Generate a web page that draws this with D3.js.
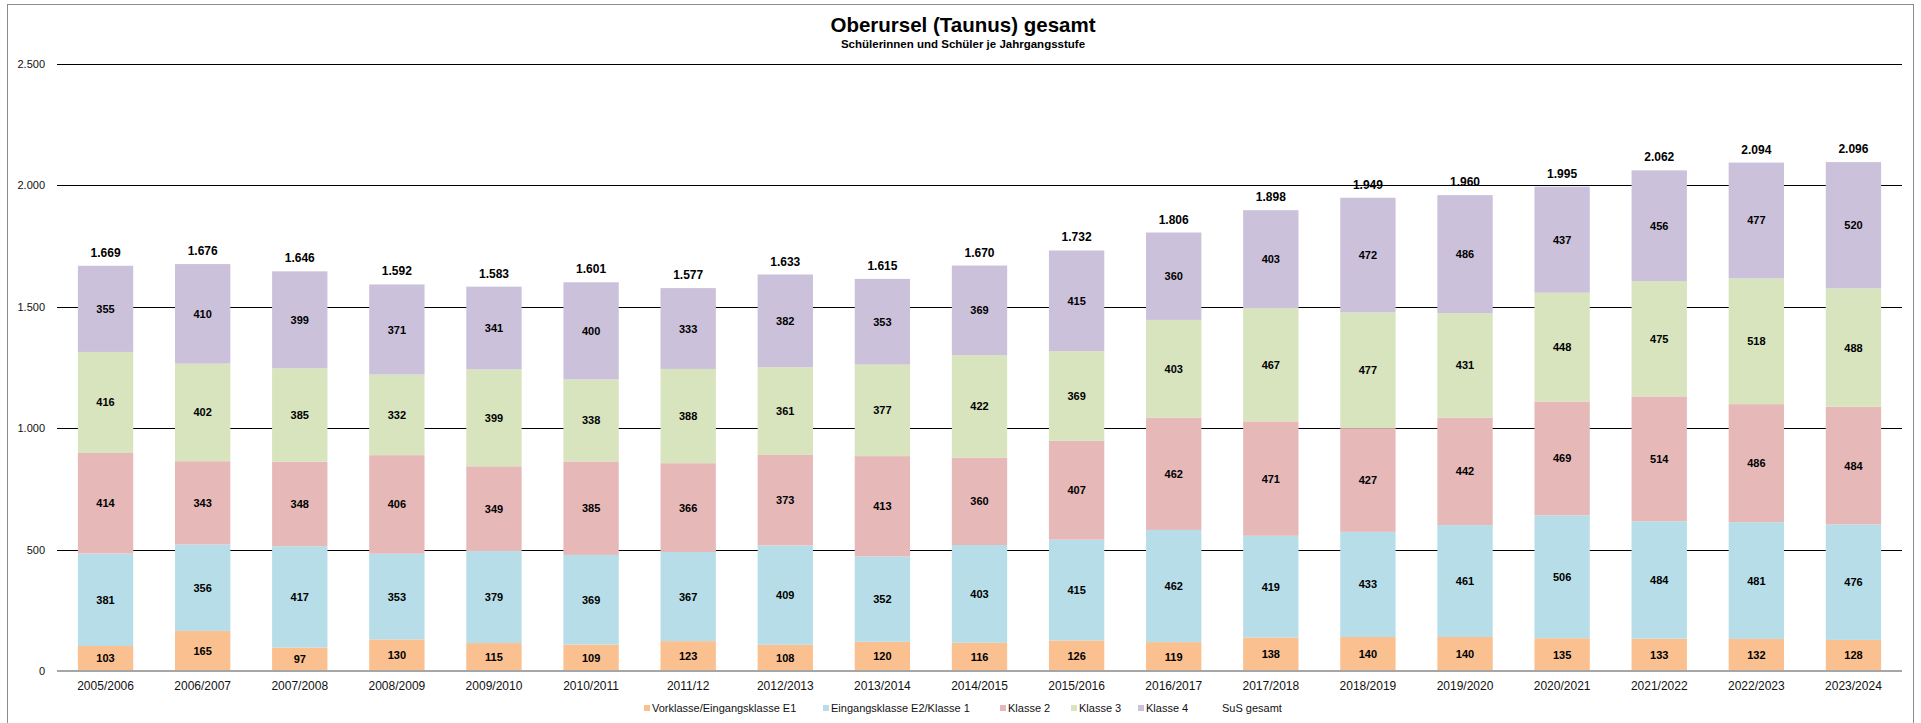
<!DOCTYPE html>
<html>
<head>
<meta charset="utf-8">
<script src="https://cdn.jsdelivr.net/npm/d3@7"></script>
<style>
body { margin:0; background:#fff; }
svg { font-family: "Liberation Sans", Arial, sans-serif; }
</style>
</head>
<body>
<svg id="chart"></svg>
<script>
var years = ["2005/2006","2006/2007","2007/2008","2008/2009","2009/2010","2010/2011","2011/12","2012/2013","2013/2014","2014/2015","2015/2016","2016/2017","2017/2018","2018/2019","2019/2020","2020/2021","2021/2022","2022/2023","2023/2024"];
var vorklasse = [103,165,97,130,115,109,123,108,120,116,126,119,138,140,140,135,133,132,128];
var klasse1 = [381,356,417,353,379,369,367,409,352,403,415,462,419,433,461,506,484,481,476];
var klasse2 = [414,343,348,406,349,385,366,373,413,360,407,462,471,427,442,469,514,486,484];
var klasse3 = [416,402,385,332,399,338,388,361,377,422,369,403,467,477,431,448,475,518,488];
var klasse4 = [355,410,399,371,341,400,333,382,353,369,415,360,403,472,486,437,456,477,520];
var susGesamt = [1669,1676,1646,1592,1583,1601,1577,1633,1615,1670,1732,1806,1898,1949,1960,1995,2062,2094,2096];
var seriesNames = ["Vorklasse/Eingangsklasse E1","Eingangsklasse E2/Klasse 1","Klasse 2","Klasse 3","Klasse 4"];
var colors = ["#FAC090","#B7DEE8","#E6B9B8","#D7E4BD","#CCC1DA"];
var yTicks = [0,500,1000,1500,2000,2500];

var screen = {width:1921, height:723};
var plot = {left:57, right:1902, top:64, bottom:671};

var de = d3.formatLocale({decimal:",", thousands:".", grouping:[3], currency:["","€"]});
var fmt = de.format(",d");

var svg = d3.select("#chart")
  .attr("width", screen.width)
  .attr("height", screen.height);

// frame
svg.append("rect")
  .attr("x", 7.5).attr("y", 4.5)
  .attr("width", 1906).attr("height", 740)
  .attr("fill", "none").attr("stroke", "#8c8c8c").attr("stroke-width", 1);

var xScale = d3.scaleBand()
  .domain(years)
  .range([plot.left, plot.right])
  .paddingInner(0.43)
  .paddingOuter(0.215);

var yScale = d3.scaleLinear()
  .domain([0, 2500])
  .range([plot.bottom, plot.top]);

// gridlines
svg.append("g").selectAll("line")
  .data(yTicks.filter(function(d){ return d > 0; }))
  .enter().append("line")
  .attr("x1", plot.left).attr("x2", plot.right)
  .attr("y1", function(d){ return Math.round(yScale(d)) + 0.5; })
  .attr("y2", function(d){ return Math.round(yScale(d)) + 0.5; })
  .attr("stroke", "#000").attr("stroke-width", 1);

// y axis labels
var yAxis = d3.axisLeft(yScale).tickValues(yTicks).tickFormat(fmt).tickSize(0).tickPadding(12);
var gy = svg.append("g").attr("transform", "translate(" + plot.left + ",0)").call(yAxis);
gy.select(".domain").remove();
gy.selectAll("text").attr("font-size", 11).attr("fill", "#111").attr("font-family", "Liberation Sans, Arial, sans-serif");

// stacked data
var rows = years.map(function(y, i){
  return {year:y, s0:vorklasse[i], s1:klasse1[i], s2:klasse2[i], s3:klasse3[i], s4:klasse4[i], total:susGesamt[i]};
});
var stack = d3.stack().keys(["s0","s1","s2","s3","s4"]);
var layers = stack(rows);

var groups = svg.append("g").selectAll("g")
  .data(layers).enter().append("g")
  .attr("fill", function(d, i){ return colors[i]; });

groups.selectAll("rect")
  .data(function(d){ return d; })
  .enter().append("rect")
  .attr("x", function(d){ return xScale(d.data.year); })
  .attr("width", xScale.bandwidth())
  .attr("y", function(d){ return yScale(d[1]); })
  .attr("height", function(d){ return yScale(d[0]) - yScale(d[1]); });

// segment labels
layers.forEach(function(layer){
  svg.append("g").selectAll("text")
    .data(layer).enter().append("text")
    .attr("x", function(d){ return xScale(d.data.year) + xScale.bandwidth()/2; })
    .attr("y", function(d){ return (yScale(d[0]) + yScale(d[1]))/2 + 4; })
    .attr("text-anchor", "middle")
    .attr("font-size", 11).attr("font-weight", "bold").attr("fill", "#000")
    .text(function(d){ return fmt(d[1] - d[0]); });
});

// totals
svg.append("g").selectAll("text")
  .data(rows).enter().append("text")
  .attr("x", function(d){ return xScale(d.year) + xScale.bandwidth()/2; })
  .attr("y", function(d){ return yScale(d.total) - 9; })
  .attr("text-anchor", "middle")
  .attr("font-size", 12).attr("font-weight", "bold").attr("fill", "#000")
  .text(function(d){ return fmt(d.total); });

// baseline
svg.append("line")
  .attr("x1", plot.left).attr("x2", plot.right)
  .attr("y1", yScale(0)).attr("y2", yScale(0))
  .attr("stroke", "#a6a6a6").attr("stroke-width", 2);

// x labels
var xAxis = d3.axisBottom(xScale).tickSize(0).tickPadding(10);
var gx = svg.append("g").attr("transform", "translate(0," + plot.bottom + ")").call(xAxis);
gx.select(".domain").remove();
gx.selectAll("text").attr("font-size", 12).attr("fill", "#111").attr("font-family", "Liberation Sans, Arial, sans-serif");

// title
svg.append("text").attr("x", 963).attr("y", 32).attr("text-anchor", "middle")
  .attr("font-size", 20.5).attr("font-weight", "bold").text("Oberursel (Taunus) gesamt");
svg.append("text").attr("x", 963).attr("y", 48).attr("text-anchor", "middle")
  .attr("font-size", 11.5).attr("font-weight", "bold").text("Schülerinnen und Schüler je Jahrgangsstufe");

// legend
var legendX = [644, 823, 1000, 1071, 1138];
var legend = svg.append("g");
seriesNames.forEach(function(name, i){
  legend.append("rect").attr("x", legendX[i]).attr("y", 705).attr("width", 6).attr("height", 6).attr("fill", colors[i]);
  legend.append("text").attr("x", legendX[i] + 8).attr("y", 712)
    .attr("font-size", 11).attr("fill", "#111").text(name);
});
legend.append("text").attr("x", 1222).attr("y", 712).attr("font-size", 11).attr("fill", "#111").text("SuS gesamt");
</script>
</body>
</html>
